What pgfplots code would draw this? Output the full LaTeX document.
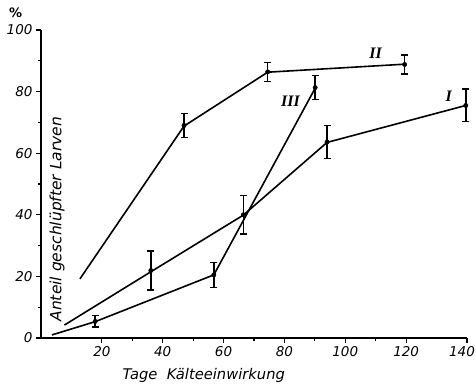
\documentclass[border=0pt]{standalone}
\usepackage{pgfplots}
\pgfplotsset{compat=1.18}
\usepackage{fontspec}
\setmainfont{DejaVu Sans}
\setsansfont{DejaVu Sans}
\newfontfamily\romfont{Liberation Serif}
\begin{document}
\begin{tikzpicture}
\useasboundingbox (-41pt,-50pt) rectangle (435pt,338pt);
\begin{axis}[
  at={(0,0)}, anchor=origin,
  scale only axis, width=426pt, height=308pt,
  xmin=0, xmax=140, ymin=0, ymax=100,
  axis x line*=bottom, axis y line*=left,
  axis line style={line width=1.5pt,-},
  xtick={20,40,...,120}, ytick={0,20,...,100},
  extra x ticks={140},
  extra x tick style={ticklabel style={xshift=-5pt}},
  minor tick num=1,
  tick align=outside,
  major tick length=5pt, minor tick length=3pt,
  tick style={line width=1.1pt,black},
  ticklabel style={font=\fontsize{13.5}{13.5}\selectfont\itshape},
  /pgf/number format/assume math mode=true,
  clip=false,
]
% Curve II
\addplot[black, line width=1.6pt] coordinates {(12.8,19.2) (47,68.8) (74.5,86.3) (119.5,88.9)};
\addplot[black, only marks, mark=*, mark size=2.2pt,
  error bars/.cd, y dir=both, y explicit, error mark options={rotate=90, mark size=3.5pt, line width=1.3pt}, error bar style={line width=1.6pt}]
  coordinates {(47,69) +- (0,3.8) (74.5,86.4) +- (0,3.1) (119.5,88.8) +- (0,3.1)};
% Curve III
\addplot[black, line width=1.6pt] coordinates {(3.6,1) (17.8,5.3) (56.8,20.5) (90.1,81.1)};
\addplot[black, only marks, mark=*, mark size=2.2pt,
  error bars/.cd, y dir=both, y explicit, error mark options={rotate=90, mark size=3.5pt, line width=1.3pt}, error bar style={line width=1.6pt}]
  coordinates {(17.8,5.4) +- (0,1.8) (56.8,20.5) +- (0,4) (90.1,81.3) +- (0,3.9)};
% Curve I
\addplot[black, line width=1.6pt] coordinates {(7.7,4.2) (36.1,21.5) (66.5,39.9) (94,63.5) (139.6,75.5)};
\addplot[black, only marks, mark=*, mark size=2.2pt,
  error bars/.cd, y dir=both, y explicit, error mark options={rotate=90, mark size=3.5pt, line width=1.3pt}, error bar style={line width=1.6pt}]
  coordinates {(36.1,21.9) +- (0,6.3) (66.5,40) +- (0,6.2) (94,63.6) +- (0,5.3) (139.6,75.5) +- (0,5.3)};
% labels
\node[font=\fontsize{16}{16}\selectfont\romfont\bfseries\itshape] at (axis cs:110,92.5) {II};
\node[font=\fontsize{16}{16}\selectfont\romfont\bfseries\itshape] at (axis cs:82,77) {III};
\node[font=\fontsize{16}{16}\selectfont\romfont\bfseries\itshape] at (axis cs:134,78.5) {I};
\node[rotate=90, font=\fontsize{15.5}{15.5}\selectfont\itshape] at (axis cs:5.3,38.6) {Anteil geschlüpfter Larven};
\node[font=\fontsize{14.7}{14.7}\selectfont\itshape] at (axis cs:53.5,-12) {Tage\ \ Kälteeinwirkung};
\node[font=\fontsize{13}{13}\selectfont\bfseries] at (axis cs:-8.3,105.5) {\%};
\end{axis}
\end{tikzpicture}
\end{document}
